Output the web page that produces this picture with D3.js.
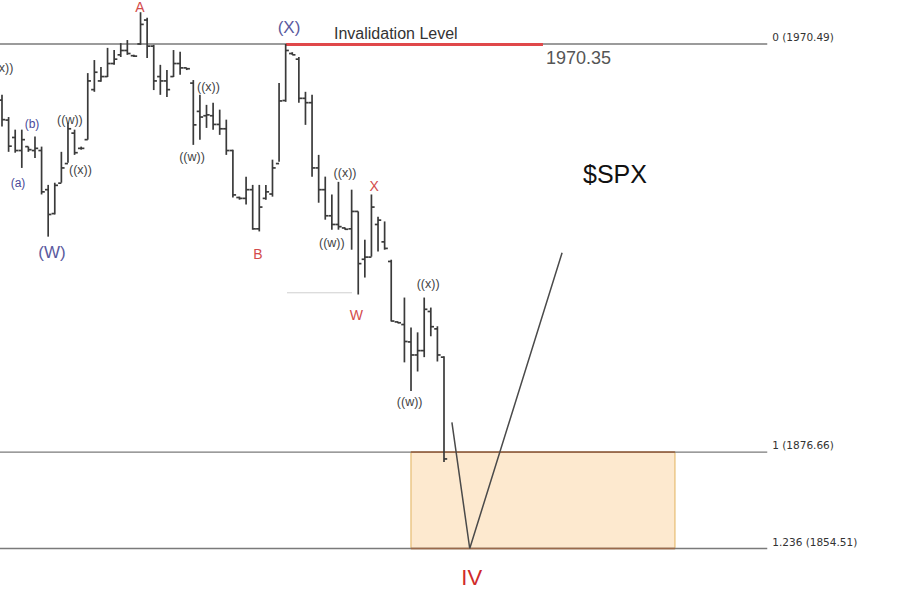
<!DOCTYPE html>
<html><head><meta charset="utf-8">
<script src="https://cdn.jsdelivr.net/npm/d3@7"></script>
<style>html,body{margin:0;padding:0;background:#fff;}svg{display:block;}</style>
</head><body>
<svg id="c" width="899" height="603"></svg>
<script>
// ---- data (prices) ----
const barHigh  = [1958.8,1953.7,1950.8,1950.8,1946.9,1949.2,1946.9,1938.1,1938.6,1945.7,1952.4,1950.8,1946.9,1963.8,1966.8,1965.2,1969.6,1969.1,1970.7,1971.4,1968.0,1977.8,1976.5,1970.3,1965.7,1964.5,1969.1,1968.7,1965.0,1962.2,1958.8,1956.5,1957.0,1955.4,1953.1,1946.2,1935.4,1940.0,1938.1,1938.1,1938.1,1943.9,1961.5,1970.5,1968.6,1967.5,1959.5,1958.8,1945.0,1940.0,1935.9,1938.8,1928.3,1937.0,1932.0,1925.5,1935.9,1930.8,1929.7,1920.9,1906.7,1912.2,1905.3,1904.2,1912.2,1909.9,1905.6,1898.7];
const barLow   = [1951.5,1945.7,1945.5,1942.0,1945.7,1944.3,1935.9,1926.2,1931.3,1938.6,1943.2,1945.0,1946.2,1948.5,1959.5,1961.8,1962.9,1965.7,1967.5,1968.0,1967.5,1970.3,1967.3,1959.9,1958.8,1958.3,1962.9,1963.4,1964.5,1947.3,1948.5,1951.2,1950.8,1949.6,1945.0,1935.2,1934.7,1933.6,1927.8,1927.4,1934.7,1935.4,1943.4,1957.2,1968.0,1957.0,1951.9,1940.0,1934.0,1930.1,1927.8,1927.8,1927.8,1923.2,1912.9,1916.8,1921.6,1922.8,1923.2,1906.7,1906.3,1897.3,1890.7,1895.2,1898.5,1903.3,1897.5,1874.4];
const barOpen  = [1957.6,1953.0,1949.0,1946.0,1946.9,1946.0,1946.0,1937.0,1931.5,1938.5,1943.0,1950.0,1946.5,1948.5,1960.0,1962.0,1963.0,1966.0,1968.0,1969.0,1967.8,1970.5,1976.0,1970.0,1963.0,1962.0,1963.0,1966.0,1965.0,1961.5,1955.0,1954.0,1954.0,1952.0,1951.0,1946.0,1935.2,1935.0,1937.0,1928.0,1935.0,1936.0,1943.0,1957.5,1968.3,1967.0,1958.0,1957.0,1942.0,1937.0,1931.0,1929.0,1928.2,1928.0,1932.0,1921.0,1921.5,1929.0,1925.0,1920.5,1906.6,1906.0,1902.0,1899.0,1900.0,1909.0,1905.0,1898.5];
const barClose = [1953.1,1947.0,1946.0,1948.5,1946.2,1946.5,1936.5,1931.3,1938.0,1942.0,1951.0,1945.5,1946.5,1962.0,1964.0,1963.0,1966.0,1967.0,1969.0,1968.3,1967.7,1975.0,1970.0,1962.0,1962.0,1960.0,1966.0,1965.0,1964.8,1951.9,1953.7,1954.2,1952.0,1951.0,1946.0,1935.8,1935.0,1937.0,1928.0,1933.0,1936.5,1942.0,1957.4,1969.0,1968.0,1958.0,1957.0,1942.0,1937.0,1931.0,1929.0,1928.5,1927.9,1932.0,1920.0,1921.5,1933.0,1930.0,1923.5,1906.8,1906.4,1902.1,1899.0,1900.0,1909.5,1905.5,1899.0,1875.1];

// Fibonacci levels
const levelValues = [1970.49, 1876.66, 1854.51];
const levelLabels = ["0 (1970.49)", "1 (1876.66)", "1.236 (1854.51)"];
const levelEndBar = 116;

// target zone
const zoneBars = [62, 102];
const zonePrices = [1876.66, 1854.51];

// invalidation
const invalidationPrice = 1970.35;
const invalidationBars = [43.05, 82.0];

// faint W level line
const wLineBars = [43.2, 53.05];
const wLinePrice = 1913.3;

// projected path
const projBars   = [68.2, 70.9, 84.9];
const projPrices = [1883.5, 1854.51, 1922.5];

// wave labels
const waveText  = ["((x))","(b)","(a)","((w))","((x))","(W)","A","((x))","((w))","B","(X)","((x))","X","((w))","W","((x))","((w))","IV"];
const waveBar   = [0.0,4.55,2.43,10.3,11.9,7.58,20.9,31.3,28.8,38.8,43.5,52.0,56.4,50.0,53.7,64.6,61.8,71.2];
const wavePrice = [1964.05,1951.2,1937.6,1952.1,1940.6,1921.3,1977.85,1959.7,1943.6,1921.1,1973.0,1939.9,1936.7,1923.8,1907.0,1914.4,1887.3,1846.1];
const waveKind  = ["sub","minor","minor","sub","sub","major","red","sub","sub","red","major","sub","red","sub","red","sub","sub","big"];

// ---- drawing ----
const svg = d3.select("#c");
const x = d3.scaleLinear().domain([0, 67]).range([2, 444]);
const y = d3.scaleLinear().domain([1854.51, 1970.49]).range([548.5, 44]);

// zone rect
svg.append("rect")
  .attr("x", x(zoneBars[0])).attr("y", y(zonePrices[0]))
  .attr("width", x(zoneBars[1]) - x(zoneBars[0]))
  .attr("height", y(zonePrices[1]) - y(zonePrices[0]))
  .attr("fill", "#fde9cf").attr("stroke", "#ebc788").attr("stroke-width", 1.5);

// level lines
svg.selectAll("line.lvl").data(levelValues).enter().append("line")
  .attr("x1", 0).attr("x2", x(levelEndBar))
  .attr("y1", d => y(d)).attr("y2", d => y(d))
  .attr("stroke", "#7a7a7a").attr("stroke-width", 1.3);

// zone top/bottom edges (brownish where they meet lines)
svg.selectAll("line.zedge").data(zonePrices).enter().append("line")
  .attr("x1", x(zoneBars[0])).attr("x2", x(zoneBars[1]))
  .attr("y1", d => y(d)).attr("y2", d => y(d))
  .attr("stroke", "#9a6a4c").attr("stroke-width", 1.6);

svg.selectAll("text.lvl").data(levelLabels).enter().append("text")
  .attr("x", x(levelEndBar) + 5).attr("y", (d, i) => y(levelValues[i]) - 3)
  .attr("font-family", "DejaVu Sans, sans-serif").attr("font-size", 10.5)
  .attr("fill", "#333").text(d => d);

// faint W line
svg.append("line")
  .attr("x1", x(wLineBars[0])).attr("x2", x(wLineBars[1]))
  .attr("y1", y(wLinePrice)).attr("y2", y(wLinePrice))
  .attr("stroke", "#cfcfcf").attr("stroke-width", 1);

// invalidation red line
svg.append("line")
  .attr("x1", x(invalidationBars[0])).attr("x2", x(invalidationBars[1]))
  .attr("y1", y(invalidationPrice)).attr("y2", y(invalidationPrice))
  .attr("stroke", "#e0484a").attr("stroke-width", 3);
svg.append("text").attr("x", 334).attr("y", 39)
  .attr("font-family", "Liberation Sans, Arial, sans-serif").attr("font-size", 16)
  .attr("fill", "#333").text("Invalidation Level");
svg.append("text").attr("x", x(invalidationBars[1]) + 3).attr("y", 64)
  .attr("font-family", "Liberation Sans, Arial, sans-serif").attr("font-size", 18)
  .attr("fill", "#555").text(invalidationPrice.toFixed(2));

// OHLC bars
const bars = barHigh.map((h, i) => ({i, h, l: barLow[i], o: barOpen[i], c: barClose[i]}));
const g = svg.append("g").attr("stroke", "#3a3a3a").attr("stroke-width", 1.7);
bars.forEach(b => {
  const cx = x(b.i);
  g.append("line").attr("x1", cx).attr("x2", cx).attr("y1", y(b.h)).attr("y2", y(b.l));
  g.append("line").attr("x1", cx - 3.2).attr("x2", cx).attr("y1", y(b.o)).attr("y2", y(b.o));
  g.append("line").attr("x1", cx).attr("x2", cx + 3.2).attr("y1", y(b.c)).attr("y2", y(b.c));
});

// projection path
const proj = projBars.map((b, i) => [x(b), y(projPrices[i])]);
svg.append("path").attr("d", d3.line()(proj))
  .attr("fill", "none").attr("stroke", "#4a4a4a").attr("stroke-width", 1.5);

// wave labels
const styles = {
  sub:   {fill: "#444", size: 12.5},
  minor: {fill: "#4a4a9a", size: 12},
  major: {fill: "#5a5a9e", size: 17},
  red:   {fill: "#d34b4b", size: 14},
  big:   {fill: "#d02a2a", size: 22}
};
waveText.forEach((t, i) => {
  const s = styles[waveKind[i]];
  svg.append("text").attr("x", x(waveBar[i])).attr("y", y(wavePrice[i]))
    .attr("text-anchor", "middle")
    .attr("font-family", "Liberation Sans, Arial, sans-serif")
    .attr("font-size", s.size).attr("fill", s.fill).text(t);
});

// ticker
svg.append("text").attr("x", 583).attr("y", 183)
  .attr("font-family", "Liberation Sans, Arial, sans-serif").attr("font-size", 25)
  .attr("fill", "#111").text("$SPX");
</script>
</body></html>
